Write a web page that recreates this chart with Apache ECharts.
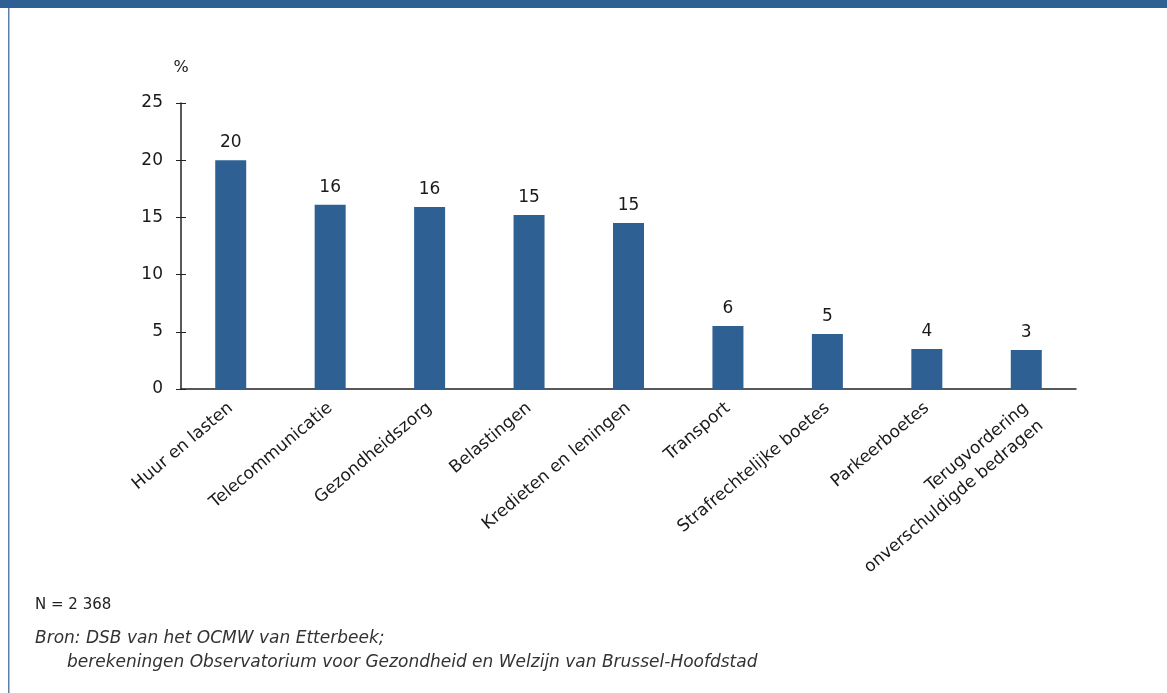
<!DOCTYPE html>
<html>
<head>
<meta charset="utf-8">
<script src="https://cdn.jsdelivr.net/npm/echarts@6/dist/echarts.min.js"></script>
<style>
  html, body { margin: 0; padding: 0; background: #ffffff; }
  #chart { width: 1167px; height: 693px; }
</style>
</head>
<body>
<div id="chart"></div>
<script>
// Schuldsoorten bij cliënten van de DSB (percentage)
const categories = [
  'Huur en lasten',
  'Telecommunicatie',
  'Gezondheidszorg',
  'Belastingen',
  'Kredieten en leningen',
  'Transport',
  'Strafrechtelijke boetes',
  'Parkeerboetes',
  'Terugvordering\nonverschuldigde bedragen'
];
const shares = [20.0, 16.1, 15.9, 15.2, 14.5, 5.5, 4.8, 3.5, 3.4];
const yTicks = [0, 5, 10, 15, 20, 25];

const FONT = '"DejaVu Sans", sans-serif';
const BLUE = '#2e6094';
const TEXT = '#1a1a1a';
const LABEL_LINE = 23;

// Labels are centred on their anchor; a two-line label gets a blank
// leading line so that its first line sits where single-line labels do.
function hangFromFirstLine(name) {
  const n = name.split('\n').length;
  return n > 1 ? ' \n'.repeat(n - 1) + name : name;
}

const chart = echarts.init(document.getElementById('chart'), null, { renderer: 'canvas' });

const yBase = {
  type: 'value',
  min: yTicks[0],
  max: yTicks[yTicks.length - 1],
  interval: yTicks[1] - yTicks[0],
  splitLine: { show: false }
};

chart.setOption({
  animation: false,
  grid: { left: 181, right: 91, top: 103, bottom: 304, containLabel: false },
  xAxis: {
    type: 'category',
    data: categories,
    axisLine: { show: true, lineStyle: { color: '#222', width: 1.5 } },
    axisTick: { show: false },
    axisLabel: {
      interval: 0,
      rotate: 40,
      margin: 17,
      fontFamily: FONT,
      fontSize: 17,
      color: TEXT,
      lineHeight: LABEL_LINE,
      formatter: hangFromFirstLine
    }
  },
  yAxis: [
    Object.assign({}, yBase, {
      name: '%',
      nameLocation: 'end',
      nameGap: 27,
      nameTextStyle: { fontFamily: FONT, fontSize: 16, color: TEXT, align: 'center' },
      axisLine: { show: true, lineStyle: { color: '#222', width: 1.5 } },
      axisTick: { show: true, inside: false, length: 5, lineStyle: { color: '#222' } },
      axisLabel: { fontFamily: FONT, fontSize: 17, color: TEXT, margin: 18 }
    }),
    // second copy of the scale gives the ticks their inner half
    Object.assign({}, yBase, {
      position: 'left',
      axisLine: { show: false },
      axisTick: { show: true, inside: true, length: 5, lineStyle: { color: '#222' } },
      axisLabel: { show: false }
    })
  ],
  series: [{
    type: 'bar',
    data: shares,
    barWidth: 31,
    itemStyle: { color: BLUE },
    label: {
      show: true,
      position: 'top',
      distance: 9,
      fontFamily: FONT,
      fontSize: 17,
      color: TEXT,
      formatter: p => String(Math.round(p.value))
    }
  }],
  graphic: [
    { type: 'rect', left: 0, top: 0, shape: { width: 1167, height: 8 }, style: { fill: BLUE } },
    { type: 'rect', left: 8, top: 8, shape: { width: 1.5, height: 685 }, style: { fill: '#5a80b0' } },
    {
      type: 'text', left: 35, top: 598,
      style: { text: 'N = 2 368', font: '15px ' + FONT, fill: '#222' }
    },
    {
      type: 'text', left: 35, top: 630,
      style: { text: 'Bron: DSB van het OCMW van Etterbeek;', font: 'italic 17px ' + FONT, fill: '#333' }
    },
    {
      type: 'text', left: 67, top: 654,
      style: { text: 'berekeningen Observatorium voor Gezondheid en Welzijn van Brussel-Hoofdstad', font: 'italic 17px ' + FONT, fill: '#333' }
    }
  ]
});
</script>
</body>
</html>
